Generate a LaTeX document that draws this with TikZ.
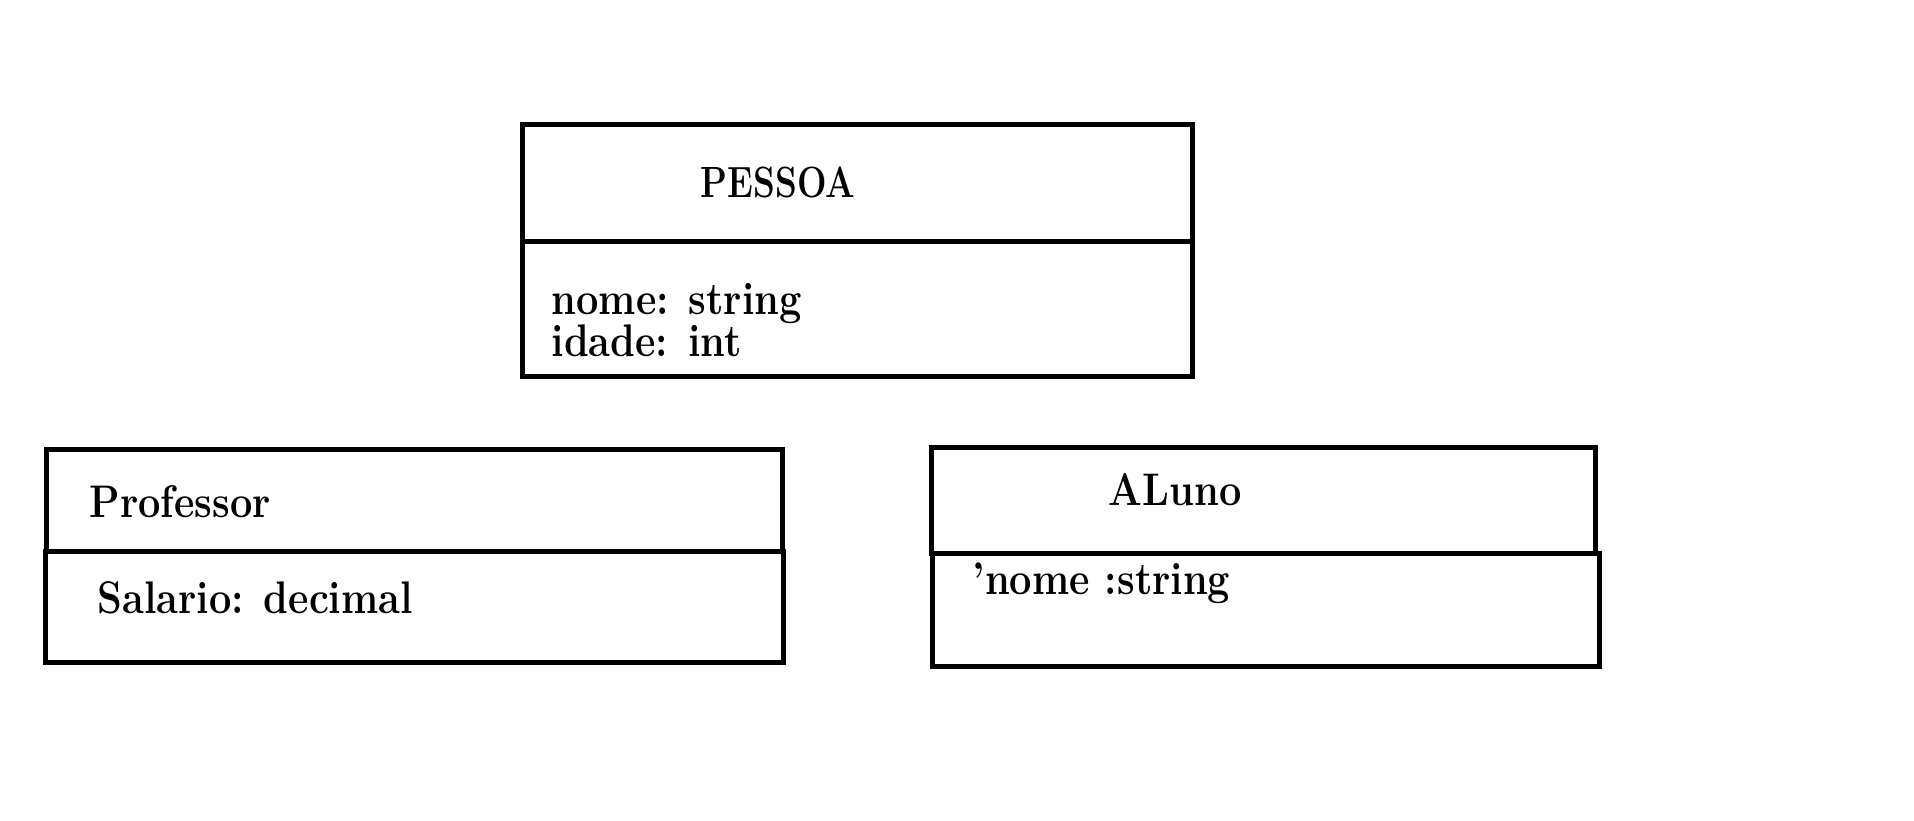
\documentclass[tikz,border=0pt]{standalone}
\newcommand{\tallfont}[1]{\scalebox{1}[1.15]{#1}}
\tikzset{
  classbox/.style={draw, line width=1.42pt},
  attr/.style={anchor=base west, inner sep=0pt, font=\fontsize{11.3}{13}\selectfont\bfseries},
}
\begin{document}
\begin{tikzpicture}[x=0.01cm, y=-0.01cm]
        \useasboundingbox (0,0) rectangle (1914,820);
        
        %the class PESSOA
        \draw [classbox] (522.5,124.5) rectangle (1192,241);
        \draw [classbox] (522.5,241) rectangle (1192,376);
        \node [attr] (pessoa) at (700,197.5) {\scalebox{0.88}[1.1]{PESSOA}};
        \node [attr] (pessoaNome) at (551,314) {\tallfont{nome: string}};
        \node [attr] (pessoaIdade) at (551,356) {\tallfont{idade: int}};
        
        %the class Professor
        \draw [classbox] (46.5,449.5) rectangle (782.5,551);
        \draw [classbox] (45.5,551) rectangle (783.5,662.5);
        \node [attr] (professor) at (89,517) {\tallfont{Professor}};
        \node [attr] (professorSalario) at (97,613) {\tallfont{Salario: decimal}};
        
        %the class ALuno
        \draw [classbox] (931.5,447.5) rectangle (1595,553);
        \draw [classbox] (932.5,553) rectangle (1599,666.5);
        \node [attr] (aluno) at (1108,505) {\tallfont{ALuno}};
        \node [attr] (alunoNome) at (972,594) {\tallfont{'nome :string}};
        
    \end{tikzpicture}
\end{document}
